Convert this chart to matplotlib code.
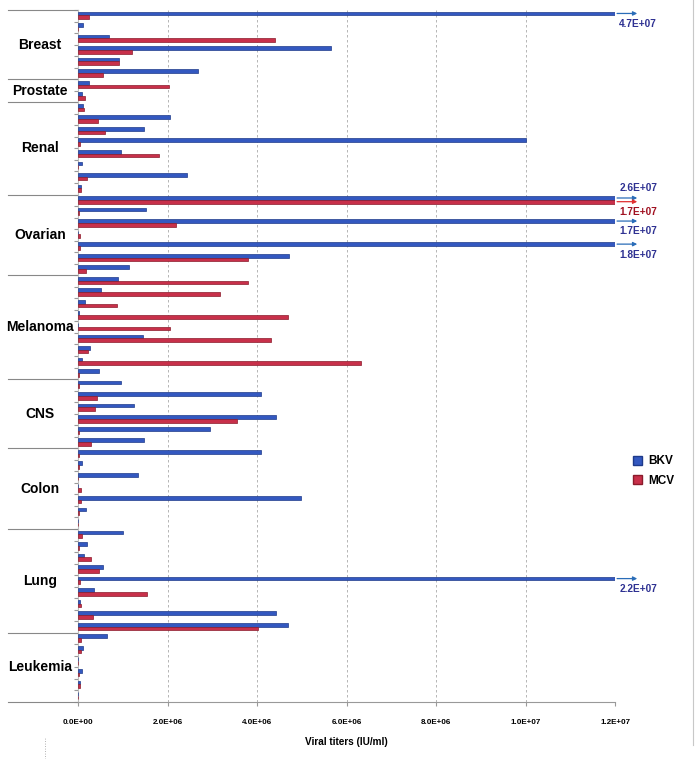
import matplotlib
matplotlib.use('Agg')
import matplotlib.pyplot as plt
from matplotlib.lines import Line2D
from matplotlib.patches import Patch
from matplotlib.ticker import FuncFormatter
import numpy as np

plt.rcParams['font.family'] = ['Liberation Sans', 'DejaVu Sans']

# cancer types and the number of cell lines in each
groups = ['Breast', 'Prostate', 'Renal', 'Ovarian', 'Melanoma', 'CNS', 'Colon', 'Lung', 'Leukemia']
group_sizes = [6, 2, 8, 7, 9, 6, 7, 9, 6]

# viral titers (IU/ml), in units of 1e6, one value per cell line
bkv = [47.0, 0.12, 0.69, 5.65, 0.92, 2.68,
       0.25, 0.10,
       0.12, 2.05, 1.48, 10.0, 0.95, 0.10, 2.43, 0.07,
       26.0, 1.51, 17.0, 0.0, 18.0, 4.71, 1.15,
       0.90, 0.51, 0.15, 0.03, 0.0, 1.45, 0.26, 0.10, 0.48,
       0.97, 4.10, 1.26, 4.43, 2.96, 1.48,
       4.10, 0.08, 1.35, 0.0, 4.98, 0.18, 0.0,
       1.01, 0.21, 0.13, 0.55, 22.0, 0.36, 0.05, 4.43, 4.70,
       0.64, 0.12, 0.0, 0.08, 0.05, 0.0]
mcv = [0.25, 0.0, 4.40, 1.21, 0.91, 0.55,
       2.04, 0.16,
       0.13, 0.45, 0.60, 0.05, 1.82, 0.0, 0.19, 0.06,
       17.0, 0.02, 2.19, 0.05, 0.05, 3.81, 0.18,
       3.81, 3.17, 0.87, 4.69, 2.06, 4.32, 0.23, 6.32, 0.03,
       0.03, 0.43, 0.38, 3.56, 0.03, 0.29,
       0.02, 0.02, 0.0, 0.06, 0.07, 0.02, 0.0,
       0.10, 0.02, 0.28, 0.47, 0.05, 1.54, 0.06, 0.33, 4.03,
       0.07, 0.07, 0.0, 0.03, 0.05, 0.0]

bkv = np.array(bkv) * 1e6
mcv = np.array(mcv) * 1e6
XMAX = 1.2e7
n = len(bkv)
rows = np.arange(n)

blue = '#3358C0'
red = '#C8304A'
blue_txt = '#2E3192'
red_txt = '#A01020'

fig = plt.figure(figsize=(6.97, 7.59), dpi=100)
ax = fig.add_axes([78 / 697, 1 - 702 / 759, 537 / 697, 692 / 759])

ax.barh(rows + 0.30, bkv, height=0.32, color=blue, edgecolor='#1E3A8A', linewidth=0.5, zorder=3)
ax.barh(rows + 0.62, mcv, height=0.32, color=red, edgecolor='#8A1B2B', linewidth=0.5, zorder=3)

ax.set_xlim(0, XMAX)
ax.set_ylim(n, 0)

# truncated bars: arrow + value
for i in range(n):
    for vals, off, col, tcol in [(bkv, 0.30, '#2A6DB8', blue_txt), (mcv, 0.62, '#E03030', red_txt)]:
        v = vals[i]
        if v > XMAX:
            y = i + off
            ax.annotate('', xy=(XMAX, y), xytext=(16, 0), textcoords='offset points',
                        arrowprops=dict(arrowstyle='<|-', color=col, lw=0.9,
                                        mutation_scale=6, shrinkA=0, shrinkB=1.5),
                        annotation_clip=False)
            dy = -7.5
            # first ovarian BKV label sits above its arrow
            if vals is bkv and mcv[i] > XMAX:
                dy = 7.5
            ax.annotate(f'{v:.1E}', xy=(XMAX, y), xytext=(3, dy), textcoords='offset points',
                        ha='left', va='center', fontsize=7.3, fontweight='bold', color=tcol,
                        annotation_clip=False)

# axes styling
ax.set_xticks(np.arange(0, XMAX + 1, 2e6))
ax.xaxis.set_major_formatter(FuncFormatter(lambda x, p: f'{x:.1E}'))
ax.tick_params(axis='x', labelsize=5.8, length=3, color='#999999', pad=9)
for lab in ax.get_xticklabels():
    lab.set_fontweight('bold')
ax.set_xlabel('Viral titers (IU/ml)', fontsize=7.2, fontweight='bold', labelpad=8)
ax.xaxis.grid(True, linestyle=(0, (3, 3)), color='#AAAAAA', linewidth=0.6)
ax.set_axisbelow(True)

ax.set_yticks(np.arange(0, n + 1))
ax.set_yticklabels([])
ax.tick_params(axis='y', length=3, color='#999999')

for s in ['top', 'right']:
    ax.spines[s].set_visible(False)
ax.spines['left'].set_color('#BBBBBB')
ax.spines['bottom'].set_color('#999999')
ax.spines['left'].set_linewidth(0.8)
ax.spines['bottom'].set_linewidth(0.8)

# group separators and labels
x_left = -70 / 537
bounds = np.concatenate([[0], np.cumsum(group_sizes)])
ax.add_line(Line2D([x_left, 0], [n, n], transform=ax.get_yaxis_transform(),
                   color='#888888', lw=0.8, clip_on=False))
for k, g in enumerate(groups):
    ax.add_line(Line2D([x_left, 0], [bounds[k], bounds[k]], transform=ax.get_yaxis_transform(),
                       color='#888888', lw=0.8, clip_on=False))
    ax.text(-38 / 537, (bounds[k] + bounds[k + 1]) / 2, g, transform=ax.get_yaxis_transform(),
            ha='center', va='center', fontsize=10, fontweight='bold')

# legend
handles = [Patch(facecolor=blue, edgecolor='#1E3A8A', label='BKV'),
           Patch(facecolor=red, edgecolor='#8A1B2B', label='MCV')]
fig.legend(handles=handles, loc='center left', bbox_to_anchor=(622 / 697, 1 - 471 / 759),
           frameon=False, prop={'size': 8.5, 'weight': 'bold'}, handlelength=0.8,
           handleheight=0.8, handletextpad=0.5, labelspacing=0.6)

# page edge marks
fig.add_artist(Line2D([693 / 697, 693 / 697], [1 - 745 / 759, 1], color='#C8C8C8', lw=0.8))
fig.add_artist(Line2D([45 / 697, 45 / 697], [0, 1 - 737 / 759], color='#999999', lw=0.6,
                      linestyle=(0, (1, 2))))

fig.savefig('out.png', dpi=100)
